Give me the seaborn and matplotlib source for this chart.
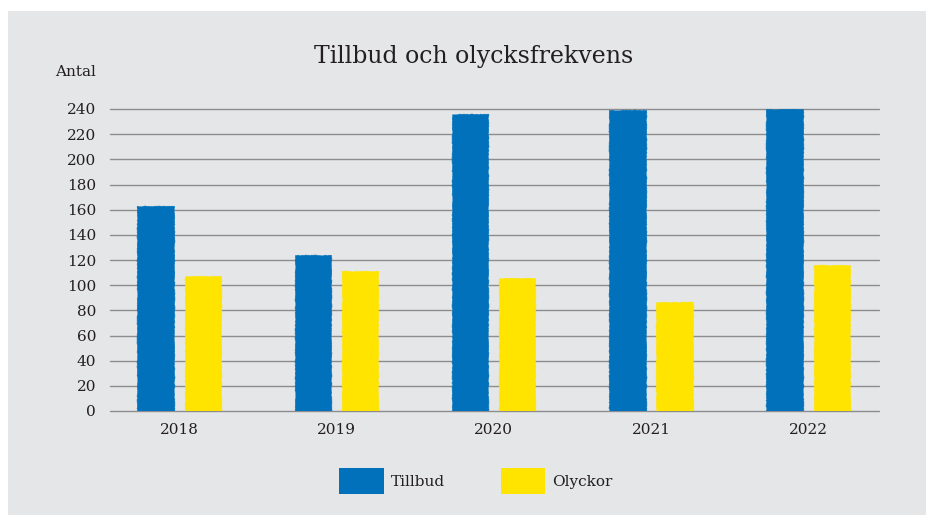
import numpy as np
import pandas as pd
import matplotlib
matplotlib.use("Agg")
import matplotlib.pyplot as plt
import seaborn as sns
from matplotlib.patches import Patch, Rectangle

####################################################################################
## data
years = ["2018", "2019", "2020", "2021", "2022"]
tillbud = [163, 124, 236, 239, 240]
olyckor = [107, 111, 106, 87, 116]
series_names = ["Tillbud", "Olyckor"]
yticks = list(range(0, 241, 20))

df = pd.DataFrame({
    "year": years * 2,
    "serie": [series_names[0]] * len(years) + [series_names[1]] * len(years),
    "antal": tillbud + olyckor,
})
####################################################################################

blue = "#0071ba"
yellow = "#ffe400"
bg = "#e5e6e8"
grid_col = "#8d8d8f"
txt = "#231f20"

sns.set_style("white")
plt.rcParams["font.family"] = ["DejaVu Serif"]

fig = plt.figure(figsize=(9.26, 5.15), dpi=100)
fig.patch.set_facecolor("white")
# grey panel behind everything
fig.patches.append(Rectangle((8 / 926, 0), 1, 1 - 11 / 515, transform=fig.transFigure,
                             facecolor=bg, edgecolor="none", zorder=-10))

ax = fig.add_axes([110 / 926, 104 / 515, 769 / 926, 302 / 515])
ax.set_facecolor("none")

sns.barplot(data=df, x="year", y="antal", hue="serie", order=years,
            hue_order=series_names, palette=[blue, yellow],
            width=0.6, gap=0.23, saturation=1, ax=ax, legend=False, zorder=3)

# slight rough edge, the original bars look hand-torn
for bar in ax.patches:
    bar.set_edgecolor(bar.get_facecolor())
    bar.set_linewidth(0.5)
    bar.set_sketch_params(scale=0.4, length=5, randomness=40)

ax.set_ylim(0, 240)
ax.set_xlim(-0.44, 4.45)
ax.set_yticks(yticks)
ax.yaxis.grid(True, color=grid_col, linewidth=1.0, zorder=0)
for gl in ax.get_ygridlines():
    gl.set_clip_on(False)
ax.set_axisbelow(True)
for s in ax.spines.values():
    s.set_visible(False)
ax.tick_params(axis="y", length=0, pad=10, labelsize=11, labelcolor=txt)
ax.tick_params(axis="x", length=0, pad=9, labelsize=11, labelcolor=txt)
ax.set_xlabel("")
ax.set_ylabel("")

fig.text(474 / 926, 1 - 57 / 515, "Tillbud och olycksfrekvens", ha="center", va="center",
         fontsize=17, color=txt)
fig.text(55 / 926, 1 - 72 / 515, "Antal", ha="left", va="center", fontsize=11, color=txt)

handles = [Patch(facecolor=blue, edgecolor="none", label=series_names[0]),
           Patch(facecolor=yellow, edgecolor="none", label=series_names[1])]
fig.legend(handles=handles, loc="center", bbox_to_anchor=(476 / 926, 1 - 481 / 515),
           ncol=2, frameon=False, fontsize=11, handlelength=2.9, handleheight=2.2,
           handletextpad=0.45, columnspacing=3.7, labelcolor=txt)

fig.savefig("out.png", dpi=100, facecolor=fig.get_facecolor())
